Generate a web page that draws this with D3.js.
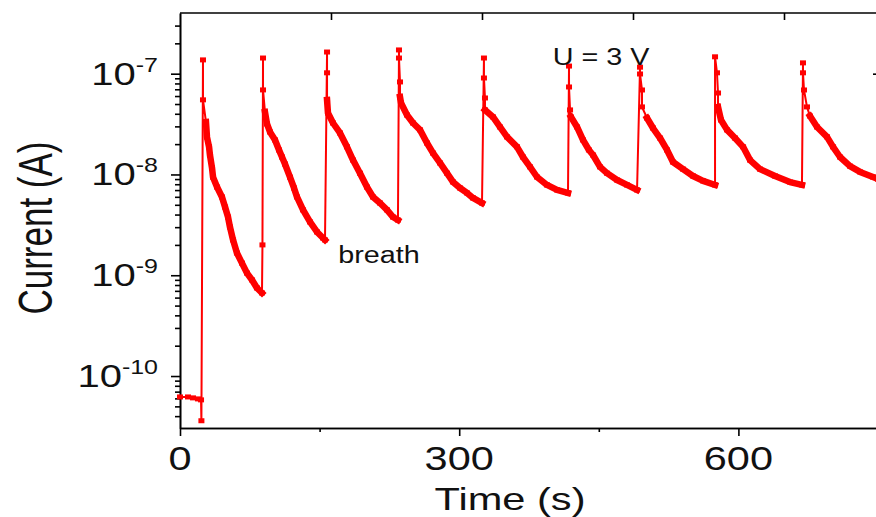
<!DOCTYPE html>
<meta charset="utf-8">
<script src="https://cdn.jsdelivr.net/npm/d3@7"></script>
<style>
  html, body { margin: 0; background: #fff; overflow: hidden; }
  svg { display: block; }
  text { font-family: "Liberation Sans", Arial, sans-serif; fill: #111; }
</style>
<body>
<div id="chart"></div>
<script>

// time (s), current (A)
var baseline = [[0, 6.2e-11], [8.6, 6.2e-11], [14, 6.07e-11], [19.3, 5.93e-11], [22.6, 5.8e-11], [23.0, 3.6e-11]];
var pulse1 = [[24.7, 1.37e-7], [24.7, 5.5e-8], [27.9, 3.32e-8], [29.0, 2.35e-8], [31.2, 1.88e-8], [32.2, 1.56e-8],
  [34.4, 1.16e-8], [35.5, 9.4e-9], [39.8, 7.5e-9], [45.1, 5.98e-9], [48.4, 4.75e-9], [51.6, 3.78e-9], [53.7, 3.01e-9],
  [57.0, 2.24e-9], [61.2, 1.66e-9], [66.6, 1.32e-9], [72.0, 1.05e-9], [77.4, 8.98e-10], [82.7, 7.48e-10], [88.1, 6.67e-10]];
var pulse2 = [[88.6, 2.0e-9], [89.2, 1.43e-7], [89.2, 6.9e-8], [91.3, 4.17e-8], [93.5, 3.17e-8], [96.7, 2.64e-8],
  [102.1, 2.2e-8], [106.4, 1.75e-8], [109.6, 1.49e-8], [112.8, 1.27e-8], [118.2, 9.4e-9], [122.5, 7.34e-9],
  [125.7, 5.98e-9], [132.2, 4.45e-9], [139.7, 3.38e-9], [147.2, 2.69e-9], [153.7, 2.34e-9], [155.8, 2.24e-9]];
var pulse3 = [[158.0, 1.64e-7], [158.0, 1.02e-7], [158.0, 5.49e-8], [159.0, 4.07e-8], [164.4, 3.24e-8], [171.9, 2.58e-8],
  [179.4, 1.88e-8], [185.9, 1.39e-8], [193.4, 1.03e-8], [200.9, 7.5e-9], [207.4, 5.98e-9], [214.9, 5.21e-9],
  [222.4, 4.45e-9], [228.9, 3.78e-9], [234.2, 3.53e-9]];
var pulse4 = [[235.3, 1.72e-7], [235.3, 1.43e-7], [236.4, 8.28e-8], [236.4, 5.87e-8], [237.5, 5.12e-8], [243.9, 3.89e-8],
  [250.4, 3.24e-8], [257.9, 2.77e-8], [265.4, 2.05e-8], [271.9, 1.63e-8], [279.4, 1.3e-8], [286.9, 1.03e-8],
  [293.3, 8.43e-9], [300.9, 7.34e-9], [308.4, 6.55e-9], [314.8, 5.85e-9], [324.5, 5.21e-9]];
var pulse5 = [[326.6, 1.43e-7], [326.6, 9.06e-8], [327.7, 5.74e-8], [327.7, 4.37e-8], [336.3, 3.72e-8], [343.8, 2.96e-8],
  [351.4, 2.36e-8], [362.1, 1.88e-8], [368.5, 1.49e-8], [376.1, 1.19e-8], [383.6, 9.44e-9], [394.3, 7.87e-9],
  [405.1, 7.02e-9], [416.9, 6.55e-9]];
var pulse6 = [[418.0, 1.19e-7], [418.0, 7.38e-8], [419.1, 4.37e-8], [420.1, 3.72e-8], [426.6, 2.96e-8], [433.0, 2.2e-8],
  [439.4, 1.75e-8], [443.8, 1.56e-8], [451.3, 1.19e-8], [458.8, 1.03e-8], [469.6, 8.81e-9], [480.3, 7.87e-9],
  [491.1, 7.02e-9]];
var pulse7 = [[494.3, 1.16e-7], [494.3, 9.93e-8], [496.4, 6.89e-8], [496.4, 4.68e-8], [501.8, 3.63e-8], [508.2, 2.89e-8],
  [515.8, 2.3e-8], [523.3, 1.75e-8], [529.7, 1.33e-8], [540.5, 1.13e-8], [551.2, 9.66e-9], [562.0, 8.63e-9],
  [574.9, 7.87e-9]];
var pulse8 = [[574.9, 1.47e-7], [577.0, 1.02e-7], [578.1, 6.43e-8], [578.1, 4.68e-8], [581.3, 3.47e-8], [587.8, 2.77e-8],
  [596.3, 2.3e-8], [605.0, 1.88e-8], [612.5, 1.39e-8], [623.2, 1.13e-8], [639.3, 9.66e-9], [655.4, 8.41e-9],
  [668.3, 7.87e-9]];
var pulse9 = [[669.4, 1.28e-7], [669.4, 1.02e-7], [670.5, 6.89e-8], [673.7, 4.68e-8], [676.9, 3.8e-8], [684.5, 2.96e-8],
  [695.2, 2.36e-8], [701.7, 1.88e-8], [709.2, 1.49e-8], [719.9, 1.21e-8], [730.7, 1.06e-8], [744.6, 9.44e-9],
  [750.0, 9.0e-9]];

var pulses = [pulse1, pulse2, pulse3, pulse4, pulse5, pulse6, pulse7, pulse8, pulse9];

var xMajor = [0, 300, 600];
var xMinor = [150, 450];
var xTopTicks = [150, 300, 450, 600];
var yMajor = [1e-10, 1e-9, 1e-8, 1e-7];
var yExp = ["-10", "-9", "-8", "-7"];

var width = 876, height = 517;
var plotL = 180, plotR = 878, plotT = 13, plotB = 428;
var red = "#ff0000";

var svg = d3.select("#chart")
  .append("svg")
    .attr("width", width)
    .attr("height", height);

var x = d3.scaleLinear()
  .domain([0, 750])
  .range([plotL, plotR]);

// the top frame's ticks sit a bit wider apart than the bottom ones
var xTop = d3.scaleLinear()
  .domain([0, 150])
  .range([plotL, plotL + 151]);

var y = d3.scaleLog()
  .domain([3.05e-11, 4.0e-7])
  .range([plotB, plotT]);

var yMinor = [];
[1e-11, 1e-10, 1e-9, 1e-8, 1e-7].forEach(function (d) {
  for (var k = 2; k <= 9; k++) {
    var v = d * k;
    if (v > y.domain()[0] && v < y.domain()[1]) yMinor.push(v);
  }
});

function styleAxis(g) {
  g.selectAll("path, line").attr("stroke", "#000").attr("stroke-width", 1.6);
  g.selectAll("text").remove();
}

// frame
svg.append("g")
  .attr("transform", "translate(0," + plotB + ")")
  .call(d3.axisBottom(x).tickValues(xMajor).tickSize(8).tickSizeOuter(0))
  .call(styleAxis);
svg.append("g")
  .attr("transform", "translate(0," + plotB + ")")
  .call(d3.axisBottom(x).tickValues(xMinor).tickSize(4).tickSizeOuter(0))
  .call(styleAxis);
svg.append("g")
  .attr("transform", "translate(0," + plotT + ")")
  .call(d3.axisBottom(xTop).tickValues(xTopTicks).tickSize(7).tickSizeOuter(0))
  .call(styleAxis)
  .select(".domain").remove();
svg.append("line")
  .attr("x1", plotL).attr("x2", width)
  .attr("y1", plotT).attr("y2", plotT)
  .attr("stroke", "#000").attr("stroke-width", 1.6);

svg.append("g")
  .attr("transform", "translate(" + plotL + ",0)")
  .call(d3.axisLeft(y).tickValues(yMajor).tickSize(9).tickSizeOuter(0))
  .call(styleAxis);
svg.append("g")
  .attr("transform", "translate(" + plotL + ",0)")
  .call(d3.axisLeft(y).tickValues(yMinor).tickSize(5).tickSizeOuter(0))
  .call(styleAxis);
// right frame edge falls just outside the picture; only its tick stubs show
svg.append("g")
  .attr("transform", "translate(" + plotR + ",0)")
  .call(d3.axisRight(y).tickValues([1e-7]).tickSize(-5).tickSizeOuter(0))
  .call(styleAxis)
  .select(".domain").remove();

// data
var all = baseline.concat.apply(baseline, pulses);

var line = d3.line()
  .x(function (d) { return x(d[0]); })
  .y(function (d) { return y(d[1]); });

svg.append("path")
  .datum(all)
  .attr("fill", "none")
  .attr("stroke", red)
  .attr("stroke-width", 2)
  .attr("d", line);

// the slow part of each decay is a solid band of markers
pulses.forEach(function (p) {
  var peak = d3.maxIndex(p, function (d) { return d[1]; });
  var peakVal = p[peak][1];
  var tail = p.filter(function (d, i) { return i > peak && d[1] < 0.35 * peakVal; });
  svg.append("path")
    .datum(tail)
    .attr("fill", "none")
    .attr("stroke", red)
    .attr("stroke-width", 6.5)
    .attr("stroke-linejoin", "round")
    .attr("stroke-linecap", "square")
    .attr("d", line);
});

svg.append("g")
  .selectAll("rect")
  .data(all)
  .enter()
  .append("rect")
    .attr("x", function (d) { return x(d[0]) - 3; })
    .attr("y", function (d) { return y(d[1]) - 2.5; })
    .attr("width", 6)
    .attr("height", 5)
    .attr("fill", red);

// labels (the source figure's lettering is wide, hence the x stretch)
function label(str, px, py, size, anchor, sx) {
  return svg.append("text")
    .attr("transform", "translate(" + px + "," + py + ") scale(" + sx + ",1)")
    .attr("text-anchor", anchor)
    .attr("font-size", size)
    .text(str);
}

xMajor.forEach(function (d) {
  label(String(d), x(d), 470, 34, "middle", 1.22);
});

yMajor.forEach(function (d, i) {
  var t = svg.append("text")
    .attr("transform", "translate(158," + (y(d) + 11) + ") scale(1.25,1)")
    .attr("text-anchor", "end")
    .attr("font-size", 32);
  t.append("tspan").text("10");
  t.append("tspan").attr("font-size", 20).attr("dy", -13).text(yExp[i]);
});

label("Time (s)", 510, 510, 32, "middle", 1.3);

svg.append("text")
  .attr("transform", "translate(52,228) scale(1.4,1) rotate(-90)")
  .attr("text-anchor", "middle")
  .attr("font-size", 35)
  .text("Current (A)");

label("breath", 379, 263, 23, "middle", 1.25);
label("U = 3 V", 601, 65, 23, "middle", 1.25);

</script>
</body>
